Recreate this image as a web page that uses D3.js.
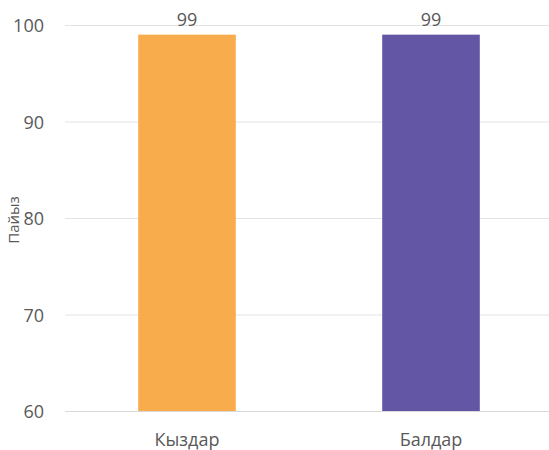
<!DOCTYPE html>
<html>
<head>
<meta charset="utf-8">
<script src="https://cdn.jsdelivr.net/npm/d3@7"></script>
<style>
  body { margin: 0; background: #fff; }
  text { font-family: "Open Sans", sans-serif; fill: #595959; }
</style>
</head>
<body>
<div id="chart"></div>
<script>
(function() {
  var width = 549,
     height = 450;

  var categories = ["Кыздар", "Балдар"];
  var values = [99, 99];
  var colors = ["#F9AC4B", "#6356A5"];
  var yTicks = [60, 70, 80, 90, 100];
  var yTitle = "Пайыз";

  var svg = d3.select("#chart")
  .append("svg")
  .attr("width", width)
  .attr("height", height);

  // plot area
  var left = 65, right = 553, top = 25, bottom = 411;

  var x = d3.scaleBand().domain(categories).range([left, right]).paddingInner(0.6).paddingOuter(0.3);
  var y = d3.scaleLinear().domain([60, 100]).range([bottom, top]);

  //gridlines
  svg.selectAll(".grid")
  .data(yTicks)
  .enter()
  .append("line")
  .attr("class", "grid")
  .attr("x1", left)
  .attr("x2", width)
  .attr("y1", function(d) { return y(d) + 0.5; })
  .attr("y2", function(d) { return y(d) + 0.5; })
  .attr("stroke", function(d) { return d === 60 ? "#d9d9d9" : "#e3e3e3"; })
  .attr("stroke-width", 1);

  //tick labels
  svg.selectAll(".ytick")
  .data(yTicks)
  .enter()
  .append("text")
  .attr("class", "ytick")
  .attr("x", 44)
  .attr("y", function(d) { return y(d) + 7; })
  .attr("text-anchor", "end")
  .style("font-size", "18px")
  .text(function(d) { return d; });

  //bars
  svg.selectAll(".bar")
  .data(values)
  .enter()
  .append("rect")
  .attr("class", "bar")
  .attr("x", function(d, i) { return x(categories[i]); })
  .attr("width", x.bandwidth())
  .attr("y", function(d) { return y(d); })
  .attr("height", function(d) { return bottom - y(d); })
  .attr("fill", function(d, i) { return colors[i]; });

  //value labels
  svg.selectAll(".val")
  .data(values)
  .enter()
  .append("text")
  .attr("class", "val")
  .attr("x", function(d, i) { return x(categories[i]) + x.bandwidth() / 2; })
  .attr("y", function(d) { return y(d) - 9; })
  .attr("text-anchor", "middle")
  .style("font-size", "18px")
  .text(function(d) { return d; });

  //category labels
  svg.selectAll(".cat")
  .data(categories)
  .enter()
  .append("text")
  .attr("class", "cat")
  .attr("x", function(d) { return x(d) + x.bandwidth() / 2; })
  .attr("y", 446)
  .attr("text-anchor", "middle")
  .style("font-size", "18px")
  .text(function(d) { return d; });

  //axis title
  svg.append("text")
  .attr("transform", "translate(19," + ((top + bottom) / 2 + 2) + ") rotate(-90)")
  .attr("text-anchor", "middle")
  .style("font-size", "15px")
  .text(yTitle);
})();
</script>
</body>
</html>
